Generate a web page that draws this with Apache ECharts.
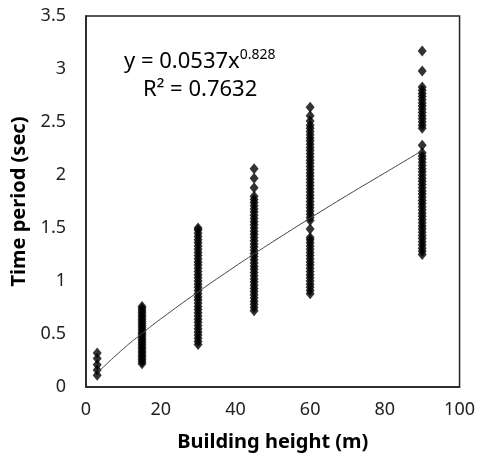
<!DOCTYPE html>
<html>
<head>
<meta charset="utf-8">
<script src="https://cdn.jsdelivr.net/npm/echarts@6/dist/echarts.min.js"></script>
<style>
html,body{margin:0;padding:0;background:#fff;}
#chart{width:478px;height:467px;}
</style>
</head>
<body>
<div id="chart"></div>
<script>
// building heights (m) and periods
var h3 = [0.11, 0.16, 0.21, 0.27, 0.32];
var h15 = [0.22, 0.24, 0.26, 0.28, 0.30, 0.32, 0.34, 0.36, 0.38, 0.40, 0.42, 0.44, 0.46, 0.48,
           0.50, 0.52, 0.54, 0.56, 0.58, 0.60, 0.62, 0.64, 0.66, 0.68, 0.70, 0.72, 0.74, 0.76];
var h30 = [0.40, 0.43, 0.46, 0.49, 0.52, 0.55, 0.58, 0.61, 0.64, 0.67, 0.70, 0.73, 0.76, 0.79,
           0.82, 0.85, 0.88, 0.91, 0.94, 0.97, 1.00, 1.03, 1.06, 1.09, 1.12, 1.15, 1.18, 1.21,
           1.24, 1.27, 1.30, 1.33, 1.36, 1.39, 1.42, 1.45, 1.48, 1.50];
var h45 = [0.72, 0.75, 0.78, 0.81, 0.84, 0.87, 0.90, 0.93, 0.96, 0.99, 1.02, 1.05, 1.08, 1.11,
           1.14, 1.17, 1.20, 1.23, 1.26, 1.29, 1.32, 1.35, 1.38, 1.41, 1.44, 1.47, 1.50, 1.53,
           1.56, 1.59, 1.62, 1.65, 1.68, 1.71, 1.74, 1.77, 1.80, 1.88, 1.97, 2.06];
var h60 = [0.88, 0.91, 0.94, 0.97, 1.00, 1.03, 1.06, 1.09, 1.12, 1.15, 1.18, 1.21, 1.24, 1.27,
           1.30, 1.33, 1.36, 1.39, 1.41, 1.49, 1.57, 1.60, 1.63, 1.66, 1.69, 1.72, 1.75, 1.78,
           1.81, 1.84, 1.87, 1.90, 1.93, 1.96, 1.99, 2.02, 2.05, 2.08, 2.11, 2.14, 2.17, 2.20,
           2.23, 2.26, 2.29, 2.32, 2.35, 2.38, 2.41, 2.44, 2.47, 2.51, 2.56, 2.64];
var h90 = [1.25, 1.28, 1.31, 1.34, 1.37, 1.40, 1.43, 1.46, 1.49, 1.52, 1.55, 1.58, 1.61, 1.64,
           1.67, 1.70, 1.73, 1.76, 1.79, 1.82, 1.85, 1.88, 1.91, 1.94, 1.97, 2.00, 2.03, 2.06,
           2.09, 2.12, 2.15, 2.18, 2.21, 2.28, 2.44, 2.47, 2.50, 2.53, 2.56, 2.59, 2.62, 2.65,
           2.68, 2.71, 2.74, 2.77, 2.80, 2.83, 2.98, 3.17];
var heights = [3, 15, 30, 45, 60, 90];
var periods = [h3, h15, h30, h45, h60, h90];

// power trend line y = 0.0537x^0.828, read at a few heights
var trendX = [3, 10, 15, 20, 30, 40, 45, 50, 60, 70, 80, 90];
var trendY = [0.133, 0.361, 0.505, 0.642, 0.897, 1.139, 1.256, 1.370, 1.593, 1.810, 2.020, 2.230];

var xTicks = [0, 20, 40, 60, 80, 100];
var yTicks = [0, 0.5, 1, 1.5, 2, 2.5, 3, 3.5];

var scatterData = [];
for (var i = 0; i < heights.length; i++) {
    for (var j = 0; j < periods[i].length; j++) {
        scatterData.push([heights[i], periods[i][j]]);
    }
}
var trendData = [];
for (var k = 0; k < trendX.length; k++) {
    trendData.push([trendX[k], trendY[k]]);
}

var myChart = echarts.init(document.getElementById('chart'));
var fontName = 'Noto Sans';
var option = {
    animation: false,
    grid: {
        left: 86, right: 18, top: 16, bottom: 80,
        show: true, borderColor: '#222', borderWidth: 1.5
    },
    xAxis: {
        type: 'value', min: xTicks[0], max: xTicks[xTicks.length - 1], interval: 20,
        name: 'Building height (m)', nameLocation: 'middle', nameGap: 45,
        nameTextStyle: {fontFamily: fontName, fontSize: 20, fontWeight: 'bold', color: '#000'},
        axisLine: {show: true, lineStyle: {color: '#222', width: 1.5}},
        axisTick: {show: false},
        splitLine: {show: false},
        axisLabel: {fontFamily: fontName, fontSize: 18, color: '#222', margin: 14}
    },
    yAxis: {
        type: 'value', min: yTicks[0], max: yTicks[yTicks.length - 1], interval: 0.5,
        name: 'Time period (sec)', nameLocation: 'middle', nameGap: 52,
        nameTextStyle: {fontFamily: fontName, fontSize: 20, fontWeight: 'bold', color: '#000'},
        axisLine: {show: true, lineStyle: {color: '#222', width: 1.5}},
        axisTick: {show: false},
        splitLine: {show: false},
        axisLabel: {fontFamily: fontName, fontSize: 18, color: '#222', margin: 20}
    },
    graphic: [
        {
            type: 'text', left: 124, top: 48,
            style: {
                text: '{a|y = 0.0537x}{s|0.828}',
                rich: {
                    a: {fontFamily: fontName, fontSize: 22, fill: '#000', verticalAlign: 'bottom'},
                    s: {fontFamily: fontName, fontSize: 14, fill: '#000', padding: [0, 0, 11, 0]}
                }
            }
        },
        {
            type: 'text', left: 143, top: 79,
            style: {text: 'R\u00b2 = 0.7632', fontFamily: fontName, fontSize: 22, fill: '#000'}
        }
    ],
    series: [
        {
            type: 'scatter', data: scatterData, symbol: 'diamond', symbolSize: [9, 11],
            itemStyle: {color: '#000'}
        },
        {
            type: 'line', data: trendData, smooth: true, showSymbol: false,
            lineStyle: {color: '#444', width: 1}
        }
    ]
};
myChart.setOption(option);
</script>
</body>
</html>
